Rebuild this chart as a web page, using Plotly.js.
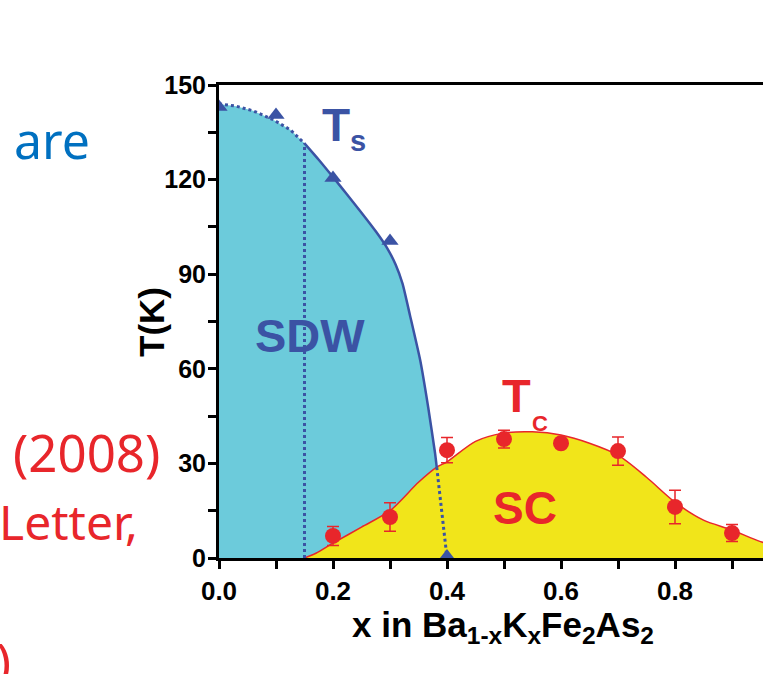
<!DOCTYPE html>
<html>
<head>
<meta charset="utf-8">
<script src="https://cdn.plot.ly/plotly-3.0.1.min.js"></script>
<style>html,body{margin:0;padding:0;background:#fff;}#chart{width:763px;height:674px;}</style>
</head>
<body>
<div id="chart"></div>
<script>
// Structural transition Ts boundary (dotted extrapolated part, solid part, dashed end)
const tsDotX = [0.0, 0.03, 0.06, 0.095, 0.125, 0.15];
const tsDotT = [144, 143.3, 141.8, 139, 135.8, 131.5];
const tsSolidX = [0.15, 0.175, 0.2, 0.225, 0.25, 0.275, 0.295, 0.31, 0.322, 0.335, 0.353, 0.367, 0.379, 0.382];
const tsSolidT = [131.5, 126.3, 120.8, 115.2, 109.5, 103.6, 98.3, 93, 87, 77, 62.7, 47.8, 33.3, 28.8];
const tsEndX = [0.382, 0.4];
const tsEndT = [28.8, 0];
// Ts measured points (triangles)
const tsPtX = [0.0, 0.1, 0.2, 0.3, 0.4];
const tsPtT = [143, 140.5, 120.5, 100.5, 0.5];
// Tc dome boundary
const tcCurveX = [0.15, 0.17, 0.2, 0.25, 0.3, 0.35, 0.382, 0.4, 0.45, 0.5, 0.55, 0.6, 0.65, 0.7, 0.75, 0.8, 0.85, 0.9, 0.95, 1.0];
const tcCurveT = [0, 1.5, 4.7, 9.8, 15, 24, 28.8, 30.5, 37, 39.6, 40, 39, 36.4, 32.6, 25.6, 17.7, 12, 8.9, 5.2, 3];
// Tc measured points with error bars
const tcPtX = [0.2, 0.3, 0.4, 0.5, 0.6, 0.7, 0.8, 0.9];
const tcPtT = [7.0, 13.0, 34.2, 37.7, 36.4, 33.9, 16.2, 7.9];
const tcErr = [3.0, 4.5, 4.0, 2.8, 1.0, 4.5, 5.3, 2.7];
// Vertical dotted line (onset of SC)
const vLineX = [0.15, 0.15];
const vLineT = [0, 131.5];

const cyan = '#6ccbdb', yellow = '#f1e51a', blue = '#3b53a4', red = '#e8262b';
const fillX = tsDotX.concat(tsSolidX.slice(1), tsEndX.slice(1));
const fillT = tsDotT.concat(tsSolidT.slice(1), tsEndT.slice(1));

const traces = [
  {x: fillX, y: fillT, type: 'scatter', mode: 'lines', fill: 'tozeroy', fillcolor: cyan, line: {width: 0, color: cyan}, hoverinfo: 'skip'},
  {x: tcCurveX, y: tcCurveT, type: 'scatter', mode: 'lines', fill: 'tozeroy', fillcolor: yellow, line: {width: 1.5, color: red, shape: 'spline', smoothing: 0.8}},
  {x: vLineX, y: vLineT, type: 'scatter', mode: 'lines', line: {width: 3, color: blue, dash: 'dot'}},
  {x: tsDotX, y: tsDotT, type: 'scatter', mode: 'lines', line: {width: 3, color: blue, dash: 'dot'}},
  {x: tsSolidX, y: tsSolidT, type: 'scatter', mode: 'lines', line: {width: 2.5, color: blue, shape: 'spline', smoothing: 0.5}},
  {x: tsEndX, y: tsEndT, type: 'scatter', mode: 'lines', line: {width: 3, color: blue, dash: 'dot'}},
  {x: tsPtX, y: tsPtT, type: 'scatter', mode: 'markers', marker: {symbol: 'triangle-up', size: 15, color: blue}},
  {x: tcPtX, y: tcPtT, type: 'scatter', mode: 'markers', marker: {symbol: 'circle', size: 16, color: red},
   error_y: {type: 'data', array: tcErr, visible: true, color: red, thickness: 1.5, width: 6}}
];

const W = 763, H = 674, L = 219, R = 0, T = 85, B = 116;
const pw = W - L - R, ph = H - T - B;
function px(x){ return (x - L) / pw; }
function py(y){ return (H - B - y) / ph; }
const boldFont = 'Arial, "Liberation Sans", Helvetica, sans-serif';
const textFont = '"Noto Sans", "Open Sans", sans-serif';

const annotations = [
  {xref: 'x', yref: 'y', x: 0.22, y: 136.5, xanchor: 'center', yanchor: 'middle', text: 'T<sub><span style="font-size:29px">s</span></sub>', showarrow: false, font: {family: boldFont, size: 46, color: blue, weight: 700}},
  {xref: 'x', yref: 'y', x: 0.16, y: 70.5, xanchor: 'center', yanchor: 'middle', text: 'SDW', showarrow: false, font: {family: boldFont, size: 47, color: blue, weight: 700}},
  {xref: 'x', yref: 'y', x: 0.522, y: 51.5, xanchor: 'center', yanchor: 'middle', text: 'T', showarrow: false, font: {family: boldFont, size: 47, color: red, weight: 700}},
  {xref: 'x', yref: 'y', x: 0.563, y: 42.8, xanchor: 'center', yanchor: 'middle', text: 'C', showarrow: false, font: {family: boldFont, size: 22, color: red, weight: 700}},
  {xref: 'x', yref: 'y', x: 0.537, y: 15.8, xanchor: 'center', yanchor: 'middle', text: 'SC', showarrow: false, font: {family: boldFont, size: 46, color: red, weight: 700}},
  {xref: 'paper', yref: 'paper', x: px(151), y: py(322), xanchor: 'center', yanchor: 'middle', textangle: -90, text: 'T(K)', showarrow: false, font: {family: boldFont, size: 35, color: '#000', weight: 700}},
  {xref: 'paper', yref: 'paper', x: px(503), y: py(627), xanchor: 'center', yanchor: 'middle', text: 'x in Ba<sub>1-x</sub>K<sub>x</sub>Fe<sub>2</sub>As<sub>2</sub>', showarrow: false, font: {family: boldFont, size: 35, color: '#000', weight: 700}},
  {xref: 'paper', yref: 'paper', x: px(12), xanchor: 'left', yanchor: 'middle', y: py(140), text: 'are', showarrow: false, font: {family: textFont, size: 50, color: '#0070c0'}},
  {xref: 'paper', yref: 'paper', x: px(162), xanchor: 'right', yanchor: 'middle', y: py(452), text: '(2008)', showarrow: false, font: {family: textFont, size: 51, color: red}},
  {xref: 'paper', yref: 'paper', x: px(140), xanchor: 'right', yanchor: 'middle', y: py(521), text: 'Letter,', showarrow: false, font: {family: textFont, size: 48, color: red}},
  {xref: 'paper', yref: 'paper', x: px(13), xanchor: 'right', yanchor: 'middle', y: py(660), text: ')', showarrow: false, font: {family: textFont, size: 50, color: red}}
];

const layout = {
  width: W, height: H,
  margin: {l: L, r: R, t: T, b: B, pad: 0},
  paper_bgcolor: '#ffffff', plot_bgcolor: '#ffffff',
  showlegend: false,
  xaxis: {
    range: [0, pw / 570], showgrid: false, zeroline: false,
    showline: true, linewidth: 3, linecolor: '#000', mirror: true,
    ticks: 'outside', ticklen: 8, tickwidth: 3, tickcolor: '#000',
    dtick: 0.2, tick0: 0, tickformat: '.1f',
    minor: {dtick: 0.1, ticks: 'outside', ticklen: 8, tickwidth: 3, tickcolor: '#000', showgrid: false},
    tickfont: {family: boldFont, size: 26, color: '#000', weight: 700}
  },
  yaxis: {
    range: [0, 150], showgrid: false, zeroline: false,
    showline: true, linewidth: 3, linecolor: '#000',
    ticks: 'outside', ticklen: 8, tickwidth: 3, tickcolor: '#000',
    dtick: 30, tick0: 0, ticklabelstandoff: -3,
    minor: {dtick: 15, ticks: 'outside', ticklen: 8, tickwidth: 3, tickcolor: '#000', showgrid: false},
    tickfont: {family: boldFont, size: 25, color: '#000', weight: 700}
  },
  annotations: annotations
};

Plotly.newPlot('chart', traces, layout, {displayModeBar: false, staticPlot: true});
</script>
</body>
</html>
